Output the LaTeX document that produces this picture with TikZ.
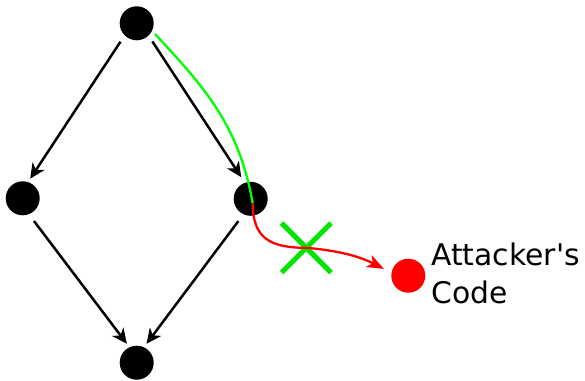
\documentclass[tikz,border=0pt]{standalone}
\usepackage{fontspec}
\newfontfamily\lblfont{DejaVu Sans}
\usetikzlibrary{arrows.meta,shapes.misc}
\begin{document}
\begin{tikzpicture}[x=1pt,y=-1pt,
  dot/.style={circle,fill=black,minimum size=34pt,inner sep=0pt,outer sep=0pt},
  reddot/.style={dot,fill=red},
  edge/.style={line width=2.5pt,-{Stealth[length=15pt,width=14pt,inset=4.5pt]}},
  okpath/.style={line width=2.3pt,draw={rgb,255:red,0;green,255;blue,0}},
  badpath/.style={line width=2.3pt,draw=red,-{Stealth[length=17pt,width=13pt,inset=4.5pt]}},
  blocked/.style={cross out,draw={rgb,255:red,0;green,230;blue,0},line width=5pt,minimum size=49.4pt,inner sep=0pt,outer sep=0pt},
  lbl/.style={font=\lblfont\fontsize{29.8pt}{38.3pt}\selectfont,align=left,inner sep=0pt,outer sep=0pt}
]
\useasboundingbox (0,0) rectangle (585,380);
\node[dot] (T) at (136.7,23.3) {};
\node[dot] (L) at (22.7,198.3) {};
\node[dot] (R) at (250.7,198.8) {};
\node[dot] (B) at (136.7,362.7) {};
\node[reddot] (A) at (408.3,275.7) {};
\coordinate (J) at (252.7,203.3);
\node[blocked] (X) at (306.3,247.8) {};
\node[lbl,anchor=base west] (txt) at (431.4,303.3) {Attacker's\\Code};

\draw[edge,shorten <=7.6pt,shorten >=4.1pt] (T.225) -- (L.72);
\draw[edge,shorten <=7pt,shorten >=6.7pt] (T.-46) -- (R.110);
\draw[edge,shorten <=8.6pt,shorten >=4.4pt] (L.-69) -- (B.115);
\draw[edge,shorten <=8.6pt,shorten >=4.4pt] (R.-115) -- (B.65);

\draw[okpath,shorten <=4.4pt] (T.-26) to[out=-47,in=100] (J);
\draw[badpath,shorten >=8.5pt] (J) to[out=-90,in=180,looseness=1.3] (X.center) to[out=-5,in=153] (A.170);
\end{tikzpicture}
\end{document}
